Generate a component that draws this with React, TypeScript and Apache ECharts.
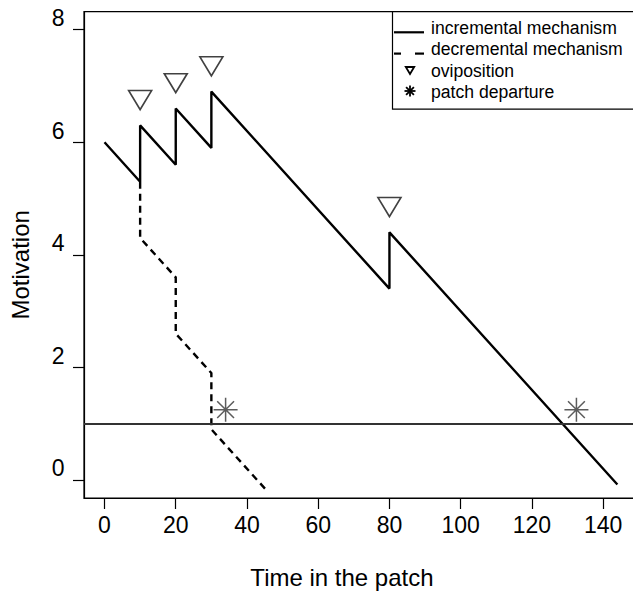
import React, { useEffect, useRef } from "react";
import * as echarts from "echarts";

const xTicks = [0, 20, 40, 60, 80, 100, 120, 140];
const yTicks = [0, 2, 4, 6, 8];
const incrementalX = [0, 10, 10, 20, 20, 30, 30, 80, 80, 144];
const incrementalY = [6, 5.3, 6.3, 5.6, 6.6, 5.9, 6.9, 3.4, 4.4, -0.08];
const decrementalX = [10, 10, 20, 20, 30, 30, 46];
const decrementalY = [5.3, 4.3, 3.6, 2.6, 1.9, 0.9, -0.22];
const ovipositionX = [10, 20, 30, 80];
const ovipositionY = [6.75, 7.05, 7.35, 4.85];
const departureX = [34, 132.5];
const departureY = [1.25, 1.25];
const threshold = 1;
const legendLabels = [
  "incremental mechanism",
  "decremental mechanism",
  "oviposition",
  "patch departure",
];

const FONT = "'Liberation Sans', Arial, Helvetica, sans-serif";
const zip = (xs: number[], ys: number[]) => xs.map((x, i) => [x, ys[i]]);

const TRI = "path://M0,0L20,0L10,17Z";
const STAR =
  "path://M12,0L12,24M0,12L24,12M3.6,3.6L20.4,20.4M20.4,3.6L3.6,20.4";

export default function App() {
  const ref = useRef<HTMLDivElement>(null);
  useEffect(() => {
    if (!ref.current) return;
    const chart = echarts.init(ref.current, undefined, { renderer: "svg" });
    const lx = 410;
    const legendRows = [28, 49.3, 70.6, 92];
    const option: any = {
      animation: false,
      grid: {
        left: 82.5,
        right: 2.1,
        top: 11.7,
        bottom: 94.7,
        show: true,
        borderColor: "#000",
        borderWidth: 1.2,
        backgroundColor: "transparent",
      },
      xAxis: {
        type: "value",
        min: -5.76,
        max: 149.76,
        splitLine: { show: false },
        axisLine: { show: true, onZero: false, lineStyle: { color: "#000", width: 1.2 } },
        axisTick: { show: true, length: 11, customValues: xTicks, lineStyle: { color: "#000", width: 1.2 } },
        axisLabel: { customValues: xTicks, margin: 15.5, color: "#000", fontSize: 23, fontFamily: FONT },
        name: "Time in the patch",
        nameLocation: "middle",
        nameGap: 67,
        nameTextStyle: { color: "#000", fontSize: 24, fontFamily: FONT, padding: [0, 38, 0, 0] },
      },
      yAxis: {
        type: "value",
        min: -0.32,
        max: 8.32,
        splitLine: { show: false },
        axisLine: { show: true, onZero: false, lineStyle: { color: "#000", width: 1.2 } },
        axisTick: { show: true, length: 11, customValues: yTicks, lineStyle: { color: "#000", width: 1.2 } },
        axisLabel: {
          customValues: yTicks,
          margin: 19.5,
          color: "#000",
          fontSize: 23,
          fontFamily: FONT,
          verticalAlign: "bottom",
        },
        name: "Motivation",
        nameLocation: "middle",
        nameRotate: 90,
        nameGap: 52,
        nameTextStyle: { color: "#000", fontSize: 24, fontFamily: FONT, padding: [0, 20, 0, 0] },
      },
      series: [
        {
          name: legendLabels[0],
          type: "line",
          data: zip(incrementalX, incrementalY),
          showSymbol: false,
          symbol: "none",
          lineStyle: { color: "#000", width: 2.4, type: "solid" },
          markLine: {
            silent: true,
            symbol: "none",
            label: { show: false },
            lineStyle: { color: "#333", width: 1.8, type: "solid" },
            data: [{ yAxis: threshold }],
          },
        },
        {
          name: legendLabels[1],
          type: "line",
          data: zip(decrementalX, decrementalY),
          showSymbol: false,
          symbol: "none",
          lineStyle: { color: "#000", width: 2.4, type: [7, 5] },
        },
        {
          name: legendLabels[2],
          type: "scatter",
          data: zip(ovipositionX, ovipositionY),
          symbol: TRI,
          symbolSize: [23, 19],
          itemStyle: { color: "transparent", borderColor: "#111", borderWidth: 1.6 },
        },
        {
          name: legendLabels[3],
          type: "scatter",
          data: zip(departureX, departureY),
          symbol: STAR,
          symbolSize: 24,
          itemStyle: { color: "transparent", borderColor: "#333", borderWidth: 1.5 },
        },
      ],
      graphic: [
        {
          type: "group",
          z: 100,
          children: [
            {
              type: "rect",
              shape: { x: 392.5, y: 11.7, width: 260, height: 97.5 },
              style: { fill: "#fff", stroke: "#000", lineWidth: 1.2 },
            },
            {
              type: "line",
              shape: { x1: 394, y1: 32.3, x2: 424, y2: 32.3 },
              style: { stroke: "#000", lineWidth: 2.2 },
            },
            {
              type: "line",
              shape: { x1: 394, y1: 53.6, x2: 401, y2: 53.6 },
              style: { stroke: "#000", lineWidth: 2.2 },
            },
            {
              type: "line",
              shape: { x1: 415, y1: 53.6, x2: 424, y2: 53.6 },
              style: { stroke: "#000", lineWidth: 2.2 },
            },
            {
              type: "polygon",
              shape: { points: [[lx - 4.2, 67], [lx + 4.2, 67], [lx, 74]] },
              style: { fill: "none", stroke: "#000", lineWidth: 1.8 },
            },
            { type: "line", shape: { x1: lx, y1: 85.5, x2: lx, y2: 96.5 }, style: { stroke: "#000", lineWidth: 1.8 } },
            { type: "line", shape: { x1: lx - 5.5, y1: 91, x2: lx + 5.5, y2: 91 }, style: { stroke: "#000", lineWidth: 1.8 } },
            { type: "line", shape: { x1: lx - 3.9, y1: 87.1, x2: lx + 3.9, y2: 94.9 }, style: { stroke: "#000", lineWidth: 1.8 } },
            { type: "line", shape: { x1: lx + 3.9, y1: 87.1, x2: lx - 3.9, y2: 94.9 }, style: { stroke: "#000", lineWidth: 1.8 } },
            ...legendLabels.map((t, i) => ({
              type: "text",
              x: 431,
              y: legendRows[i],
              style: {
                text: t,
                fill: "#000",
                font: `17.6px ${FONT}`,
                verticalAlign: "middle",
                align: "left",
              },
            })),
          ],
        },
      ],
    };
    chart.setOption(option);
    return () => chart.dispose();
  }, []);
  return (
    <div
      ref={ref}
      style={{ position: "fixed", left: 0, top: 0, width: 640, height: 594, background: "#fff" }}
    />
  );
}
